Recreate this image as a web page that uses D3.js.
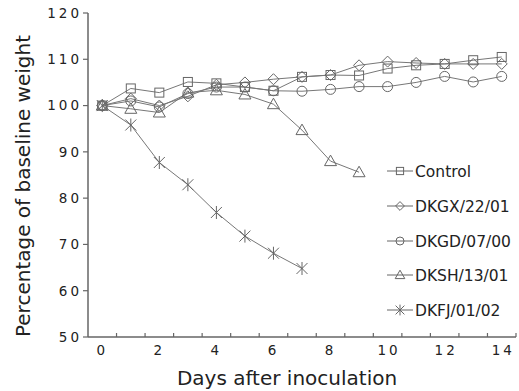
<!DOCTYPE html>
<html>
<head>
<meta charset="utf-8">
<script src="https://cdn.jsdelivr.net/npm/d3@7"></script>
<style>
  body { margin: 0; background: #fff; }
  text { font-family: "DejaVu Sans", sans-serif; fill: #222; }
</style>
</head>
<body>
<svg id="chart" width="519" height="391"></svg>
<script>
// days after inoculation
const days = [0, 1, 2, 3, 4, 5, 6, 7, 8, 9, 10, 11, 12, 13, 14];
const xTickLabels = [0, 2, 4, 6, 8, 10, 12, 14];
const yTicks = [50, 60, 70, 80, 90, 100, 110, 120];

const seriesNames = ["Control", "DKGX/22/01", "DKGD/07/00", "DKSH/13/01", "DKFJ/01/02"];
const seriesMarkers = ["square", "diamond", "circle", "triangle", "star"];

const control = [100, 103.7, 102.8, 105.1, 104.8, 104, 103.2, 106.2, 106.6, 106.5, 108, 108.7, 109, 109.8, 110.5];
const dkgx = [100, 101.5, 100, 102, 104.5, 105, 105.7, 106.2, 106.6, 108.7, 109.5, 109.2, 109, 109, 109];
const dkgd = [100, 101, 99.7, 102.6, 104, 104, 103.2, 103.1, 103.5, 104.1, 104.1, 105, 106.3, 105.1, 106.3];
const dksh = [100, 99.3, 98.5, 102.8, 103.3, 102.4, 100.3, 94.7, 88, 85.6];
const dkfj = [100, 95.8, 87.7, 82.9, 76.9, 71.8, 68.1, 64.8];

const seriesValues = [control, dkgx, dkgd, dksh, dkfj];

let svg = d3.select("#chart"),
    plotLeft = 88, plotRight = 516, plotTop = 13, plotBottom = 337;

let x = d3.scaleBand().domain(days).range([plotLeft, plotRight]).padding(0);
let y = d3.scaleLinear().domain([50, 120]).range([plotBottom, plotTop]);
let cx = d => x(d) + x.bandwidth() / 2;

const stroke = "#666";

// k scales the marker (legend ones are a bit smaller)
function marker(g, type, px, py, k = 1) {
    let s;
    if (type === "square") {
        s = 4.5 * k;
        g.append("rect").attr("x", px - s).attr("y", py - s).attr("width", 2 * s).attr("height", 2 * s);
    } else if (type === "circle") {
        g.append("circle").attr("cx", px).attr("cy", py).attr("r", 5 * k);
    } else if (type === "diamond") {
        s = 5.5 * k;
        g.append("path").attr("d", `M${px},${py - s}L${px + s},${py}L${px},${py + s}L${px - s},${py}Z`);
    } else if (type === "triangle") {
        g.append("path").attr("d", `M${px},${py - 6 * k}L${px + 6 * k},${py + 4.5 * k}L${px - 6 * k},${py + 4.5 * k}Z`);
    } else if (type === "star") {
        s = 5.5 * k;
        g.append("path").attr("d",
            `M${px - s},${py - s}L${px + s},${py + s}M${px - s},${py + s}L${px + s},${py - s}M${px},${py - s - 1}L${px},${py + s + 1}`);
    }
}

// axes
let yAxis = svg.append("g");
yAxis.append("line").attr("x1", plotLeft).attr("x2", plotLeft).attr("y1", plotTop).attr("y2", plotBottom)
    .attr("stroke", stroke).attr("stroke-width", 1.5);
yAxis.selectAll(".ytick").data(yTicks).enter().append("line")
    .attr("x1", plotLeft - 5).attr("x2", plotLeft).attr("y1", d => y(d)).attr("y2", d => y(d))
    .attr("stroke", stroke).attr("stroke-width", 1.2);
yAxis.selectAll(".ylab").data(yTicks).enter().append("text")
    .attr("x", plotLeft - 6).attr("y", d => y(d)).attr("dy", "0.36em")
    .attr("text-anchor", "end").attr("font-size", 13.5).attr("letter-spacing", 3)
    .text(d => d);

let xAxis = svg.append("g");
xAxis.append("line").attr("x1", plotLeft).attr("x2", plotRight).attr("y1", plotBottom).attr("y2", plotBottom)
    .attr("stroke", stroke).attr("stroke-width", 1.5);
xAxis.selectAll(".xtick").data(days).enter().append("line")
    .attr("x1", d => x(d) + x.bandwidth()).attr("x2", d => x(d) + x.bandwidth())
    .attr("y1", plotBottom - 4).attr("y2", plotBottom)
    .attr("stroke", stroke).attr("stroke-width", 1.2);
xAxis.selectAll(".xlab").data(xTickLabels).enter().append("text")
    .attr("x", d => cx(d) + (d >= 10 ? 1.5 : 0)).attr("y", 355)
    .attr("text-anchor", "middle").attr("font-size", 13.5).attr("letter-spacing", 3)
    .text(d => d);

svg.append("text").attr("x", 287).attr("y", 385).attr("text-anchor", "middle")
    .attr("font-size", 20).text("Days after inoculation");
svg.append("text").attr("transform", "translate(30,186) rotate(-90)")
    .attr("text-anchor", "middle").attr("font-size", 20).text("Percentage of baseline weight");

// series
let line = d3.line().x((d, i) => cx(days[i])).y(d => y(d));
seriesValues.forEach((vals, k) => {
    let g = svg.append("g").attr("fill", "none").attr("stroke", stroke).attr("stroke-width", 1);
    g.append("path").attr("d", line(vals)).attr("stroke", "#777");
    vals.forEach((v, i) => marker(g, seriesMarkers[k], cx(days[i]), y(v)));
});

// legend
const legendY = [171, 206, 241, 275, 310];
seriesNames.forEach((name, k) => {
    let g = svg.append("g").attr("fill", "none").attr("stroke", stroke).attr("stroke-width", 1);
    g.append("line").attr("x1", 387).attr("x2", 413).attr("y1", legendY[k]).attr("y2", legendY[k]);
    marker(g, seriesMarkers[k], 400, legendY[k], 0.8);
    svg.append("text").attr("x", 415).attr("y", legendY[k]).attr("dy", "0.36em")
        .attr("font-size", 15.5).text(name);
});
</script>
</body>
</html>
